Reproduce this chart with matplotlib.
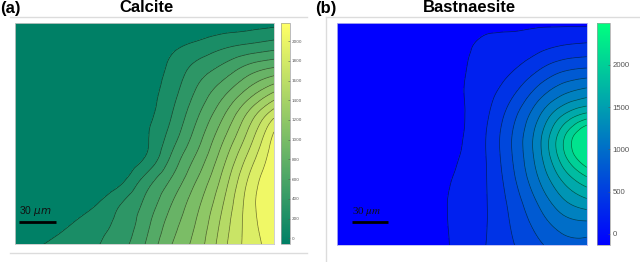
import numpy as np
import matplotlib
matplotlib.use("Agg")
import matplotlib.pyplot as plt
import matplotlib.tri as mtri
from matplotlib.colors import Normalize
from matplotlib.cm import ScalarMappable

# --- data -------------------------------------------------------------------
# sample positions across each map (fraction of width, and of height from the top)
grid_u = [0.0, 0.1, 0.2, 0.3, 0.4, 0.5, 0.6, 0.7, 0.8, 0.9, 1.0]
grid_v = [0.0, 0.1, 0.2, 0.3, 0.4, 0.5, 0.6, 0.7, 0.8, 0.9, 1.0]

# Calcite, in contour steps (one step = 170); below 1 is the flat dark band
calcite_step = 170
calcite_rows = [
    [-3.1, -2.6, -2.1, -1.6, -1.1, -0.6, -0.1, 0.15, 0.35, 0.55, 0.72],
    [-3.15, -2.5, -1.85, -1.2, -0.55, 0.1, 0.73, 1.22, 1.75, 2.14, 2.5],
    [-3.68, -2.88, -2.08, -1.28, -0.48, 0.32, 1.19, 2.3, 3.2, 4.29, 5.0],
    [-3.52, -2.72, -1.92, -1.12, -0.32, 0.48, 1.5, 3.05, 4.5, 6.14, 7.7],
    [-3.4, -2.6, -1.8, -1.0, -0.2, 0.6, 1.85, 3.7, 5.65, 8.0, 10.35],
    [-3.2, -2.4, -1.6, -0.8, 0.0, 0.8, 2.3, 4.35, 6.6, 9.2, 12.1],
    [-3.06, -2.26, -1.46, -0.66, 0.14, 0.94, 3.0, 5.1, 7.45, 10.17, 12.6],
    [-2.66, -1.86, -1.06, -0.26, 0.54, 2.18, 3.95, 5.9, 8.2, 11.0, 12.9],
    [-1.74, -0.94, -0.14, 0.66, 1.74, 3.09, 4.8, 6.6, 8.8, 11.4, 13.0],
    [-0.48, 0.17, 0.82, 1.48, 2.22, 3.55, 5.4, 7.05, 9.25, 11.42, 12.8],
    [0.5, 0.95, 1.39, 1.84, 2.55, 3.96, 5.9, 7.4, 9.56, 11.35, 12.5],
]
calcite_ticks = [0, 200, 400, 600, 800, 1000, 1200, 1400, 1600, 1800, 2000]
calcite_range = (-60, 2180)

# Bastnaesite, in contour steps (one step = 200); below 1 is the flat blue band
bast_step = 200
bast_rows = [
    [-2.4, -1.85, -1.3, -0.75, -0.2, 0.3, 0.7, 0.82, 0.85, 0.83, 0.8],
    [-2.0, -1.45, -0.9, -0.35, 0.2, 0.75, 1.2, 1.3, 1.63, 2.0, 2.18],
    [-1.85, -1.3, -0.75, -0.2, 0.35, 0.9, 1.35, 1.85, 2.75, 3.63, 3.96],
    [-1.8, -1.25, -0.7, -0.15, 0.4, 0.95, 1.6, 2.65, 4.18, 5.52, 6.2],
    [-1.83, -1.28, -0.73, -0.18, 0.37, 0.92, 1.84, 3.48, 5.52, 7.6, 8.86],
    [-1.8, -1.25, -0.7, -0.15, 0.4, 0.95, 2.04, 3.96, 6.36, 9.5, 12.2],
    [-1.7, -1.15, -0.6, -0.05, 0.5, 1.05, 2.04, 3.95, 6.36, 9.5, 12.1],
    [-1.55, -1.0, -0.45, 0.1, 0.65, 1.2, 2.0, 3.7, 5.83, 8.14, 9.82],
    [-1.45, -0.9, -0.35, 0.2, 0.75, 1.3, 1.98, 3.35, 5.05, 6.79, 7.81],
    [-1.45, -0.9, -0.35, 0.2, 0.75, 1.3, 1.98, 3.1, 4.35, 5.5, 5.85],
    [-1.47, -0.92, -0.37, 0.18, 0.73, 1.28, 2.03, 2.9, 3.75, 4.55, 4.7],
]
bast_ticks = [0, 500, 1000, 1500, 2000]
bast_range = (-130, 2490)


def smooth_field(rows, step):
    nu, nv = len(grid_u), len(grid_v)
    uu, vv = np.meshgrid(grid_u, grid_v)
    # two triangles per grid cell, same diagonal everywhere
    tris = []
    for j in range(nv - 1):
        for i in range(nu - 1):
            a = j * nu + i
            b, c, d = a + 1, a + nu, a + nu + 1
            tris.append([a, b, d])
            tris.append([a, d, c])
    tri = mtri.Triangulation(uu.ravel(), vv.ravel(), np.array(tris))
    z = np.array(rows, dtype=float).ravel() * step
    interp = mtri.CubicTriInterpolator(tri, z, kind="min_E")
    refiner = mtri.UniformTriRefiner(tri)
    return refiner.refine_field(z, triinterpolator=interp, subdiv=4)


def draw_map(ax, cax, rows, step, nlines, cmap_name, vrange, ticks, edge):
    tri_f, z_f = smooth_field(rows, step)
    cmap = plt.get_cmap(cmap_name)
    norm = Normalize(*vrange)
    lines = [step * k for k in range(1, nlines + 1)]
    levels = [-1e5] + lines + [1e5]
    lowers = [vrange[0]] + lines
    ax.tricontourf(tri_f, z_f, levels=levels, colors=[cmap(norm(l)) for l in lowers])
    ax.tricontour(tri_f, z_f, levels=lines, colors="k", linewidths=0.5, alpha=0.55)
    ax.set_xlim(0, 1)
    ax.set_ylim(1, 0)
    ax.set_xticks([])
    ax.set_yticks([])
    for sp in ax.spines.values():
        sp.set_color(edge)
        sp.set_linewidth(0.6)

    cb = plt.colorbar(ScalarMappable(norm=norm, cmap=cmap), cax=cax, ticks=ticks)
    cb.outline.set_edgecolor("#a0a0a0")
    cb.outline.set_linewidth(0.5)
    return cb


fig = plt.figure(figsize=(6.4, 2.62), dpi=100)

# --- (a) Calcite
ax_a = fig.add_axes([15 / 640, 17.7 / 262, 259 / 640, 221 / 262])
cax_a = fig.add_axes([280.7 / 640, 17.7 / 262, 9.3 / 640, 221 / 262])
cb_a = draw_map(ax_a, cax_a, calcite_rows, calcite_step, 12, "summer",
                calcite_range, calcite_ticks, "#c8c8c8")
cb_a.ax.tick_params(labelsize=3, colors="#555555", length=1.5, width=0.4,
                    direction="in", pad=1.5)

ax_a.plot([0.015, 0.158], [0.102, 0.102], color="black", lw=2.0,
          transform=ax_a.transAxes, solid_capstyle="butt")
ax_a.text(0.015, 0.118, r"30 $\mu m$", transform=ax_a.transAxes,
          fontsize=7.5, color="#111111", ha="left", va="bottom",
          fontfamily="Liberation Sans")

# --- (b) Bastnaesite
ax_b = fig.add_axes([336.7 / 640, 17 / 262, 250 / 640, 221.7 / 262])
cax_b = fig.add_axes([596.7 / 640, 17 / 262, 13.3 / 640, 221.7 / 262])
cb_b = draw_map(ax_b, cax_b, bast_rows, bast_step, 11, "winter",
                bast_range, bast_ticks, "#b8b8f0")
cb_b.ax.tick_params(labelsize=5.6, colors="#555555", length=1.5, width=0.4,
                    direction="in", pad=2)
for lab in cb_b.ax.get_yticklabels():
    lab.set_fontfamily("Liberation Sans")

ax_b.plot([0.06, 0.206], [0.105, 0.105], color="black", lw=2.0,
          transform=ax_b.transAxes, solid_capstyle="butt")
ax_b.text(0.06, 0.12, r"30 $\mu m$", transform=ax_b.transAxes,
          fontsize=8, color="#111111", ha="left", va="bottom",
          fontfamily="Liberation Serif", math_fontfamily="stix")

# --- titles and panel frames
fig.text(0 / 640, 1 - 8 / 262, "(a)", fontsize=12, fontweight="bold",
         ha="left", va="center", fontfamily="Liberation Sans")
fig.text(147 / 640, 1 - 8 / 262, "Calcite", fontsize=12, fontweight="bold",
         ha="center", va="center", fontfamily="Liberation Sans")
fig.text(315 / 640, 1 - 8 / 262, "(b)", fontsize=12, fontweight="bold",
         ha="left", va="center", fontfamily="Liberation Sans")
fig.text(469 / 640, 1 - 8 / 262, "Bastnaesite", fontsize=12, fontweight="bold",
         ha="center", va="center", fontfamily="Liberation Sans")

frame = dict(color="#dcdcdc", lw=1.0, transform=fig.transFigure)
fig.add_artist(plt.Line2D([10 / 640, 307 / 640], [1 - 16.7 / 262] * 2, **frame))
fig.add_artist(plt.Line2D([10 / 640, 307 / 640], [1 - 253 / 262] * 2, **frame))
fig.add_artist(plt.Line2D([326 / 640, 1.0], [1 - 16.7 / 262] * 2, **frame))
fig.add_artist(plt.Line2D([326 / 640] * 2, [0.0, 1 - 16.7 / 262], **frame))

fig.savefig("out.png", dpi=100)
